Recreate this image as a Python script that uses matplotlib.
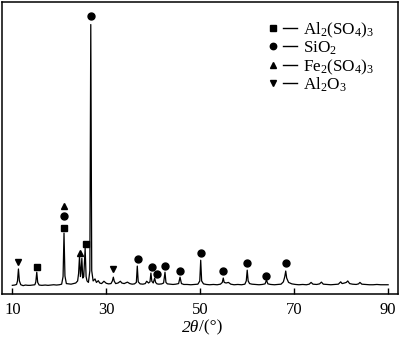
import matplotlib
matplotlib.use('Agg')
import matplotlib.pyplot as plt

plt.rcParams['font.family'] = ['Liberation Serif', 'DejaVu Serif']
plt.rcParams['mathtext.fontset'] = 'custom'
plt.rcParams['mathtext.rm'] = 'Liberation Serif'
plt.rcParams['mathtext.it'] = 'Liberation Serif:italic'

# XRD trace (2theta in degrees, intensity in a.u.)
two_theta = [10.0, 10.5, 10.9, 11.1, 11.3, 11.5, 11.8, 12.3, 12.8, 13.3, 13.8, 14.3, 14.8, 15.0, 15.2,
             15.4, 15.7, 16.3, 17.0, 17.6, 18.2, 18.8, 19.4, 20.0, 20.5, 20.8, 21.0, 21.2, 21.5, 22.0,
             22.5, 23.0, 23.5, 23.9, 24.1, 24.3, 24.5, 24.6, 24.8, 25.0, 25.2, 25.5, 25.7, 25.9, 26.2,
             26.5, 26.7, 26.9, 27.2, 27.6, 27.9, 28.3, 28.6, 29.0, 29.5, 30.0, 30.5, 31.0, 31.3, 31.5,
             31.7, 32.0, 32.5, 33.0, 33.3, 33.8, 34.5, 35.0, 35.5, 36.0, 36.4, 36.6, 36.8, 37.2, 37.8,
             38.3, 38.6, 39.0, 39.3, 39.5, 39.7, 40.0, 40.3, 40.5, 40.8, 41.2, 41.8, 42.2, 42.5, 42.7,
             43.0, 43.6, 44.2, 44.8, 45.4, 45.7, 46.0, 46.5, 47.2, 48.0, 48.8, 49.5, 49.9, 50.1, 50.3,
             50.7, 51.3, 52.0, 52.8, 53.6, 54.3, 54.7, 54.9, 55.1, 55.5, 56.0, 56.5, 57.2, 58.0, 58.8,
             59.5, 59.8, 60.0, 60.2, 60.5, 61.0, 61.8, 62.5, 63.2, 63.8, 64.1, 64.4, 65.0, 65.8, 66.5,
             67.2, 67.7, 68.0, 68.2, 68.4, 68.8, 69.5, 70.3, 71.0, 71.8, 72.6, 73.2, 73.6, 74.0, 74.8,
             75.4, 75.8, 76.2, 77.0, 77.8, 78.6, 79.4, 79.9, 80.2, 80.7, 81.1, 81.4, 81.8, 82.4, 83.2,
             83.7, 84.0, 84.4, 85.2, 86.0, 86.8, 87.6, 88.4, 89.2, 90.0]
intensity = [30, 31, 33, 45, 86, 45, 32, 29, 31, 30, 30, 31, 32, 42, 75,
             40, 31, 30, 31, 30, 31, 32, 31, 32, 34, 60, 209, 62, 36, 35,
             34, 36, 38, 45, 70, 130, 60, 70, 123, 55, 60, 157, 60, 45, 40,
             80, 923, 80, 45, 52, 40, 46, 38, 36, 44, 37, 35, 36, 45, 58,
             44, 36, 38, 44, 38, 36, 41, 36, 34, 35, 40, 96, 42, 35, 34,
             36, 44, 38, 42, 72, 44, 38, 55, 40, 35, 34, 35, 38, 75, 40,
             35, 34, 33, 34, 36, 58, 36, 33, 33, 32, 33, 34, 45, 116, 45,
             35, 33, 32, 33, 32, 34, 40, 55, 40, 38, 40, 34, 32, 33, 32,
             34, 45, 82, 45, 36, 34, 33, 32, 33, 35, 48, 35, 33, 32, 33,
             34, 42, 60, 79, 55, 40, 35, 33, 32, 33, 32, 34, 40, 34, 33,
             35, 41, 34, 33, 32, 33, 34, 42, 36, 38, 40, 45, 36, 34, 33,
             35, 40, 34, 33, 32, 32, 33, 32, 32, 32]

# phase markers (2theta, height of marker)
al2so43_x = [15.2, 21.0, 25.6]
al2so43_y = [92, 226, 171]
sio2_x = [21.0, 26.7, 36.7, 39.7, 40.7, 42.6, 45.7, 50.1, 54.8, 60.0, 64.1, 68.2]
sio2_y = [267, 951, 120, 92, 68, 96, 79, 140, 79, 106, 62, 106]
fe2so43_x = [21.0, 24.3]
fe2so43_y = [301, 140]
al2o3_x = [11.3, 31.5]
al2o3_y = [109, 86]

xticks = [10, 30, 50, 70, 90]
phase_markers = ['s', 'o', '^', 'v']
phase_sizes = [4.0, 4.6, 4.4, 4.4]
phase_labels = ['Al$_2$(SO$_4$)$_3$', 'SiO$_2$', 'Fe$_2$(SO$_4$)$_3$', 'Al$_2$O$_3$']

fig = plt.figure(figsize=(4, 3.4), dpi=100)
ax = fig.add_axes([0.005, 0.135, 0.99, 0.859])

ax.plot(two_theta, intensity, color='black', lw=0.9)
ax.plot(al2so43_x, al2so43_y, 's', color='black', ms=4.4, ls='none')
ax.plot(sio2_x, sio2_y, 'o', color='black', ms=5.0, ls='none')
ax.plot(fe2so43_x, fe2so43_y, '^', color='black', ms=4.8, ls='none')
ax.plot(al2o3_x, al2o3_y, 'v', color='black', ms=4.8, ls='none')

ax.set_xlim(7.8, 92.1)
ax.set_ylim(0, 1000)
ax.set_xticks(xticks)
ax.set_yticks([])
ax.tick_params(axis='x', direction='in', length=4.5, width=1, labelsize=12, pad=6)
for sp in ax.spines.values():
    sp.set_linewidth(1.1)

# x axis label: italic 2θ followed by upright /(°)
fig.text(0.4975, 0.036, '2θ', fontsize=12.5, fontstyle='italic', ha='right', va='center')
fig.text(0.4975, 0.036, '/(°)', fontsize=12.5, ha='left', va='center')

# key: marker — formula, one row each
row_y = 0.911
for mk, sz, lab in zip(phase_markers, phase_sizes, phase_labels):
    ax.plot([0.684], [row_y], mk, color='black', ms=sz, transform=ax.transAxes, clip_on=False)
    ax.plot([0.709, 0.745], [row_y, row_y], color='black', lw=1.0, transform=ax.transAxes)
    ax.text(0.760, row_y - 0.022, lab, fontsize=12.3, ha='left', va='baseline', transform=ax.transAxes)
    row_y -= 0.063

fig.savefig('out.png', dpi=100)
